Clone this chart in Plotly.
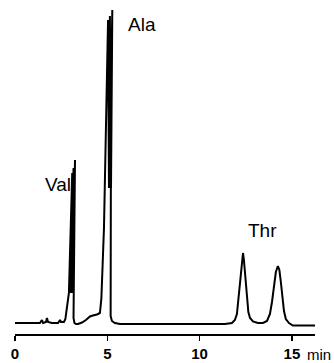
import plotly.graph_objects as go

# Chromatogram trace (time in min, detector signal in arbitrary units)
time_min = [
    0.00, 1.35, 1.46, 1.52, 1.68, 1.73, 1.79, 2.00, 2.33, 2.44, 2.49, 2.65,
    2.73, 2.92, 3.10, 3.03, 3.17, 3.11, 3.25, 3.17, 3.22, 3.30, 3.41, 3.63,
    3.84, 4.06, 4.22, 4.44, 4.60, 4.68, 4.82, 5.04, 5.09, 5.14, 5.20, 5.27,
    5.20, 5.18, 5.25, 5.41, 5.69, 10.02, 11.37, 11.75, 11.91, 12.02, 12.13,
    12.21, 12.29, 12.35, 12.40, 12.48, 12.56, 12.64, 12.73, 12.89, 13.16,
    13.43, 13.65, 13.81, 13.92, 14.03, 14.13, 14.24, 14.32, 14.40, 14.49,
    14.57, 14.67, 14.84, 15.05, 16.25,
]
signal = [
    1, 1, 4, 1, 2, 6, 2, 1, 1, 4, 2, 2,
    5, 31, 151, 31, 156, 31, 164, 6, 1, 0, 0, 1.5,
    4, 7.5, 8.5, 9.5, 11, 26, 96, 304, 136, 308, 136, 314,
    226, 8, 3, 1, 0, 0, 0, 1, 4, 10, 30,
    46, 64, 71, 64, 46, 26, 12, 6, 2.5, 1,
    1, 3, 10, 22, 39, 52, 58, 54, 42, 26,
    13, 5, 1, -1.5, -1.5,
]

peak_names = ["Val", "Ala", "Thr"]
tick_values = [0, 5, 10, 15]
tick_labels = ["0", "5", "10", "15"]
time_unit = "min"

fig = go.Figure()
fig.add_trace(go.Scatter(
    x=time_min, y=signal, mode="lines",
    line=dict(color="black", width=2, shape="linear"),
    hoverinfo="skip", showlegend=False,
))

label_pos = {"Val": (2.32, 140), "Ala": (6.90, 300), "Thr": (13.40, 94)}
for name in peak_names:
    px, py = label_pos[name]
    fig.add_annotation(x=px, y=py, text=name, showarrow=False,
                       font=dict(family="Liberation Sans, Arial", size=19, color="black"))

fig.add_annotation(x=15.7, y=0, xref="x", yref="paper", text=time_unit,
                   showarrow=False, xanchor="left", yanchor="top", yshift=-10,
                   font=dict(family="Liberation Sans, Arial", size=15, color="black"))

fig.update_layout(
    width=334, height=363,
    margin=dict(l=15, r=19, t=6, b=29, autoexpand=False),
    paper_bgcolor="white", plot_bgcolor="white",
    xaxis=dict(range=[0, 16.25], showgrid=False, zeroline=False,
               showline=True, linecolor="black", linewidth=1.5,
               ticks="outside", ticklen=5, tickwidth=1.5, tickcolor="black",
               tickvals=tick_values, ticktext=tick_labels, automargin=False,
               tickfont=dict(family="Liberation Sans, Arial", size=15, color="black", weight="bold")),
    yaxis=dict(range=[-10, 318], visible=False, showgrid=False, zeroline=False),
)

fig.write_html("out.html", config={"staticPlot": True, "displayModeBar": False},
               post_script="document.body.style.margin='0';document.body.style.overflow='hidden';")
